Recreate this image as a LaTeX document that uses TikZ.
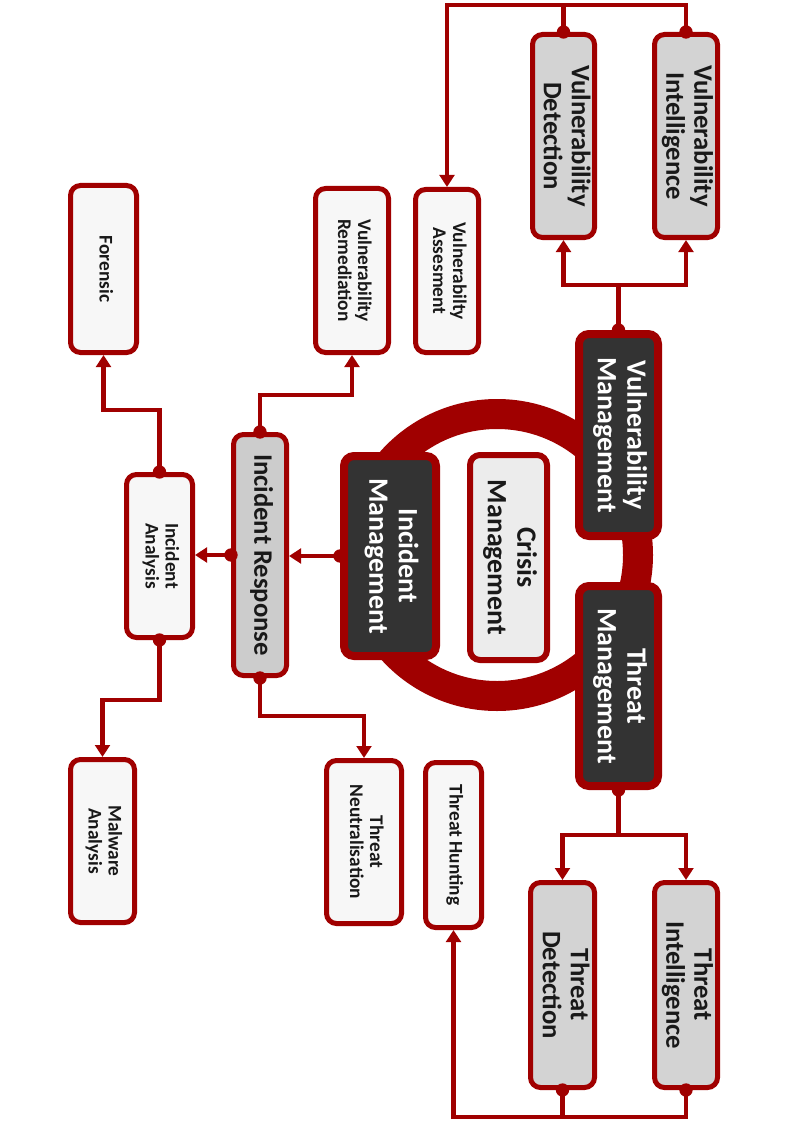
\documentclass[tikz,border=0pt]{standalone}
\usepackage{fontspec}
\setmainfont{Carlito}
\usetikzlibrary{arrows.meta}
\definecolor{dred}{HTML}{A00000}
\definecolor{darkfill}{HTML}{333333}
\definecolor{gfill}{HTML}{D3D3D3}
\definecolor{irfill}{HTML}{CCCCCC}
\definecolor{crfill}{HTML}{ECECEC}
\definecolor{wfill}{HTML}{F7F7F7}
\newcommand\vtxt[3]{\rotatebox[origin=c]{-90}{\fontsize{#1}{#2}\selectfont\bfseries\begin{tabular}{@{}c@{}}#3\end{tabular}}}
\tikzset{
  box/.style={draw=dred, rounded corners=7.5pt, inner sep=0pt, line width=3.75pt},
  darkbox/.style={box, fill=darkfill, text=white, line width=6pt},
  gbox/.style={box, fill=gfill, text=black!90},
  irbox/.style={box, fill=irfill, text=black!90},
  crbox/.style={box, fill=crfill, text=black!90, line width=4.5pt},
  wbox/.style={box, fill=wfill, text=black!90},
  sz/.style 2 args={minimum width=#1*0.75pt, minimum height=#2*0.75pt},
  conn/.style={draw=dred, line width=3.6pt},
  tip/.style={-{Triangle[length=9pt,width=11pt]}},
  dot/.style={fill=dred}
}
\begin{document}
\begin{tikzpicture}[x=0.75pt,y=-0.75pt]
\useasboundingbox (0,0) rectangle (794,1123);
% ring
\draw[dred, line width=22.5pt] (497,555) circle[radius=105.75pt];
% central nodes
\node[darkbox, sz={79}{202}] (VM) at (618.5,435) {\vtxt{21}{22}{Vulnerability\\Management}};
\node[darkbox, sz={79}{200}] (TM) at (618.5,686) {\vtxt{21}{22}{Threat\\Management}};
\node[darkbox, sz={92}{200}] (IM) at (390,556) {\vtxt{21}{22}{Incident\\Management}};
\node[crbox, sz={77}{205}] (CM) at (508.5,557.5) {\vtxt{21}{22}{Crisis\\Management}};
% vulnerability side
\node[gbox, sz={63}{203}] (VI) at (686,136) {\vtxt{20}{21}{Vulnerability\\Intelligence}};
\node[gbox, sz={62}{203}] (VD) at (563.5,136) {\vtxt{20}{21}{Vulnerability\\Detection}};
\node[wbox, sz={63}{163}] (VA) at (447,271) {\vtxt{14.5}{15}{Vulnerabilty\\Assesment}};
\node[wbox, sz={73}{164}] (VR) at (352,270.5) {\vtxt{14.5}{15}{Vulnerability\\Remediation}};
\node[wbox, sz={66}{167}] (FO) at (103.5,269) {\vtxt{14.5}{15}{Forensic}};
% threat side
\node[gbox, sz={63}{205}] (TI) at (686,985) {\vtxt{20}{21}{Threat\\Intelligence}};
\node[gbox, sz={64}{205}] (TD) at (562.5,985) {\vtxt{20}{21}{Threat\\Detection}};
\node[wbox, sz={56}{165}] (TH) at (453.5,845) {\vtxt{14.5}{15}{Threat Hunting}};
\node[wbox, sz={75}{163}] (TN) at (364,842) {\vtxt{14.5}{15}{Threat\\Neutralisation}};
\node[wbox, sz={64}{163}] (MA) at (102.5,841) {\vtxt{14.5}{15}{Malware\\Analysis}};
% incident side
\node[irbox, sz={53}{241}] (IR) at (260,555) {\vtxt{20}{21}{Incident Response}};
\node[wbox, sz={66}{163}] (IA) at (159.5,556) {\vtxt{14.5}{15}{Incident\\Analysis}};
% connectors
\coordinate (yt) at (0,5);
\coordinate (yb) at (0,1117);
\draw[conn] (VM.north) -- ++(0,-45) coordinate (vj);
\draw[conn,tip] (vj) -| (VD.south);
\draw[conn,tip] (vj) -| (VI.south);
\draw[conn,tip] (VI.north) |- (VA.north |- yt) -- (VA.north);
\draw[conn] (VD.north) -- (VD.north |- yt);
\draw[conn] (TM.south) -- ++(0,45) coordinate (tj);
\draw[conn,tip] (tj) -| (TD.north);
\draw[conn,tip] (tj) -| (TI.north);
\draw[conn,tip] (TI.south) |- (TH.south |- yb) -- (TH.south);
\draw[conn] (TD.south) -- (TD.south |- yb);
\draw[conn,tip] (IM.west) -- (IM.west -| IR.east);
\draw[conn,tip] (IR.west) -- (IR.west -| IA.east);
\draw[conn,tip] (IR.north) -- ++(0,-37) -| (VR.south);
\draw[conn,tip] (IR.south) -- ++(0,38) -| (TN.north);
\draw[conn,tip] (IA.north) -- ++(0,-62) -| (FO.south);
\draw[conn,tip] (IA.south) -- ++(0,60) -| (MA.north);
% dots
\foreach \p in {VM.north,VD.north,VI.north,TM.south,TD.south,TI.south,IM.west,IR.west,IR.north,IR.south,IA.north,IA.south}
  \fill[dot] (\p) circle[radius=5pt];
\end{tikzpicture}
\end{document}
